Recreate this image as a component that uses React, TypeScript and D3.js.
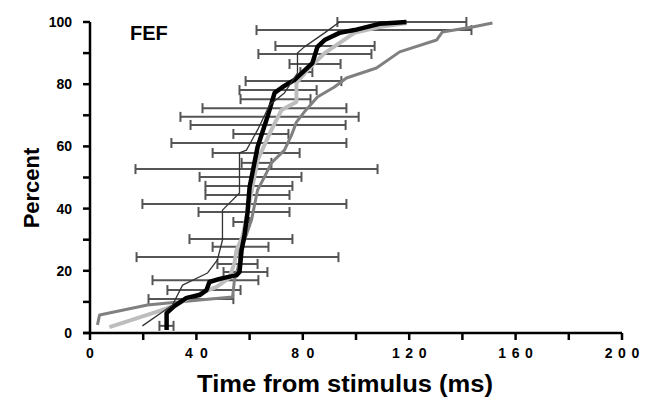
import * as d3 from 'd3';

// cumulative latency curves, [time ms, percent]
const blackCurve: [number, number][] = [
  [28.8, 1.0], [28.8, 6.4], [31.8, 8.7], [36.3, 11.3], [41.2, 12.2], [43.8, 13.8],
  [44.9, 16.4], [48.7, 17.4], [55.1, 18.6], [56.2, 19.6], [57.0, 26.7], [58.1, 31.5],
  [59.2, 38.6], [60.0, 46.9], [63.0, 59.8], [66.7, 69.5], [69.4, 77.2], [72.4, 79.1],
  [76.9, 81.4], [83.6, 86.8], [85.5, 92.0], [88.2, 94.2], [93.8, 96.5], [99.4, 97.4],
  [108.8, 99.4], [119.0, 100],
];

const lightCurve: [number, number][] = [
  [7.3, 1.9], [25.0, 6.8], [32.5, 9.0], [37.4, 11.3], [47.6, 14.8], [52.4, 17.7],
  [54.3, 22.5], [55.1, 26.7], [57.3, 30.9], [59.2, 38.6], [63.0, 55.6], [68.2, 65.3],
  [72.0, 71.7], [77.6, 74.3], [77.6, 80.4], [81.8, 84.6], [88.2, 90.0], [99.4, 96.5],
  [108.8, 98.4], [119.0, 99.7],
];

const darkCurve: [number, number][] = [
  [2.8, 2.6], [3.6, 5.8], [21.6, 9.0], [41.2, 10.6], [53.6, 11.6], [54.3, 17.0],
  [56.2, 22.8], [56.2, 26.7], [58.1, 29.9], [60.7, 36.3], [63.0, 46.0], [65.6, 50.2],
  [68.2, 54.7], [73.1, 58.8], [75.8, 63.7], [77.6, 67.8], [80.6, 71.1], [85.5, 75.9],
  [91.9, 79.1], [96.4, 82.0], [107.7, 85.2], [116.4, 90.4], [130.3, 94.2], [132.5, 96.8],
  [143.8, 98.4], [151.3, 99.7],
];

const thinCurve: [number, number][] = [
  [19.7, 2.3], [31.0, 9.0], [34.8, 15.4], [44.2, 19.3], [47.9, 23.5], [49.8, 29.9],
  [49.8, 39.5], [56.2, 45.0], [56.2, 57.9], [58.8, 58.8], [63.0, 65.3], [67.5, 73.3],
  [73.1, 77.2], [78.0, 83.6], [78.0, 90.0], [80.6, 92.0], [88.2, 96.5], [93.8, 100],
];

// horizontal error bars
const barPct = [100, 97.4, 92.3, 89.7, 86.5, 83.9, 81.0, 78.1, 75.2, 72.3, 69.5, 66.9, 64.0, 61.1, 57.9, 54.7,
  52.7, 50.2, 47.3, 44.4, 41.5, 38.9, 35.7, 30.2, 27.7, 24.4, 22.2, 19.6, 17.0, 13.8, 10.9, 2.3];
const barLo = [93.0, 62.6, 69.7, 63.3, 75.0, 79.1, 58.5, 56.2, 56.6, 42.3, 34.0, 37.8, 53.9, 30.6, 46.1, 57.0,
  17.1, 41.2, 43.4, 43.4, 19.7, 40.8, 53.9, 37.4, 46.1, 17.5, 47.9, 50.2, 23.5, 29.1, 22.0, 26.1];
const barHi = [141.5, 143.4, 107.0, 105.8, 94.2, 83.6, 94.5, 85.2, 82.9, 96.4, 101.0, 96.1, 74.6, 96.4, 78.8, 68.2,
  108.1, 79.5, 76.1, 75.0, 96.4, 75.0, 60.0, 76.1, 67.1, 93.4, 63.0, 66.7, 63.3, 56.6, 53.9, 31.4];

const xTicks = [0, 20, 40, 60, 80, 100, 120, 140, 160, 180, 200];
const xLabels = ['0', '40', '80', '120', '160', '200'];
const yTicks = [0, 10, 20, 30, 40, 50, 60, 70, 80, 90, 100];
const yLabels = ['0', '20', '40', '60', '80', '100'];

const font = 'Arial, "Liberation Sans", sans-serif';

export default function App() {
  const x = d3.scaleLinear().domain([0, 200]).range([90, 622]);
  const y = d3.scaleLinear().domain([0, 100]).range([333, 22]);
  const line = d3.line<[number, number]>().x((d) => x(d[0])).y((d) => y(d[1]));

  return (
    <svg width={650} height={400} style={{ position: 'absolute', left: 0, top: 0, background: '#fff' }}>
      {/* error bars */}
      <g stroke="#555" strokeWidth={2} fill="none">
        {barPct.map((p, i) => (
          <g key={i}>
            <line x1={x(barLo[i])} x2={x(barHi[i])} y1={y(p)} y2={y(p)} />
            <line x1={x(barLo[i])} x2={x(barLo[i])} y1={y(p) - 5} y2={y(p) + 5} />
            <line x1={x(barHi[i])} x2={x(barHi[i])} y1={y(p) - 5} y2={y(p) + 5} />
          </g>
        ))}
      </g>

      <g fill="none" strokeLinejoin="round">
        <path d={line(darkCurve) ?? ''} stroke="#808080" strokeWidth={3} />
        <path d={line(lightCurve) ?? ''} stroke="#bdbdbd" strokeWidth={4} />
        <path d={line(blackCurve) ?? ''} stroke="#000" strokeWidth={4.5} />
        <path d={line(thinCurve) ?? ''} stroke="#333" strokeWidth={1.3} />
      </g>

      {/* axes */}
      <g stroke="#000" strokeWidth={2.5}>
        <line x1={x(0)} x2={x(0)} y1={y(100)} y2={y(0)} />
        <line x1={x(0) - 7} x2={x(200)} y1={y(0)} y2={y(0)} />
        {yTicks.map((t) => (
          <line key={t} x1={x(0) - 7} x2={x(0)} y1={y(t)} y2={y(t)} />
        ))}
        {xTicks.map((t) => (
          <line key={t} x1={x(t)} x2={x(t)} y1={y(0)} y2={y(0) + 7} />
        ))}
      </g>

      <g fontFamily={font} fontWeight="bold" fontSize={14} fill="#000">
        {yLabels.map((l) => (
          <text key={l} x={x(0) - 18} y={y(+l)} dy="0.35em" textAnchor="end">{l}</text>
        ))}
        {xLabels.map((l) => (
          <text key={l} x={x(+l)} y={y(0) + 25} textAnchor="middle"
            textLength={l.length > 1 ? l.length * 11.5 : undefined}>{l}</text>
        ))}
      </g>

      <text x={130} y={40} fontFamily={font} fontWeight="bold" fontSize={20}>FEF</text>
      <text x={197} y={392} fontFamily={font} fontWeight="bold" fontSize={23}
        textLength={296} lengthAdjust="spacingAndGlyphs">Time from stimulus (ms)</text>
      <text transform={`translate(39,${188}) rotate(-90)`} textAnchor="middle"
        fontFamily={font} fontWeight="bold" fontSize={22}>Percent</text>
    </svg>
  );
}
